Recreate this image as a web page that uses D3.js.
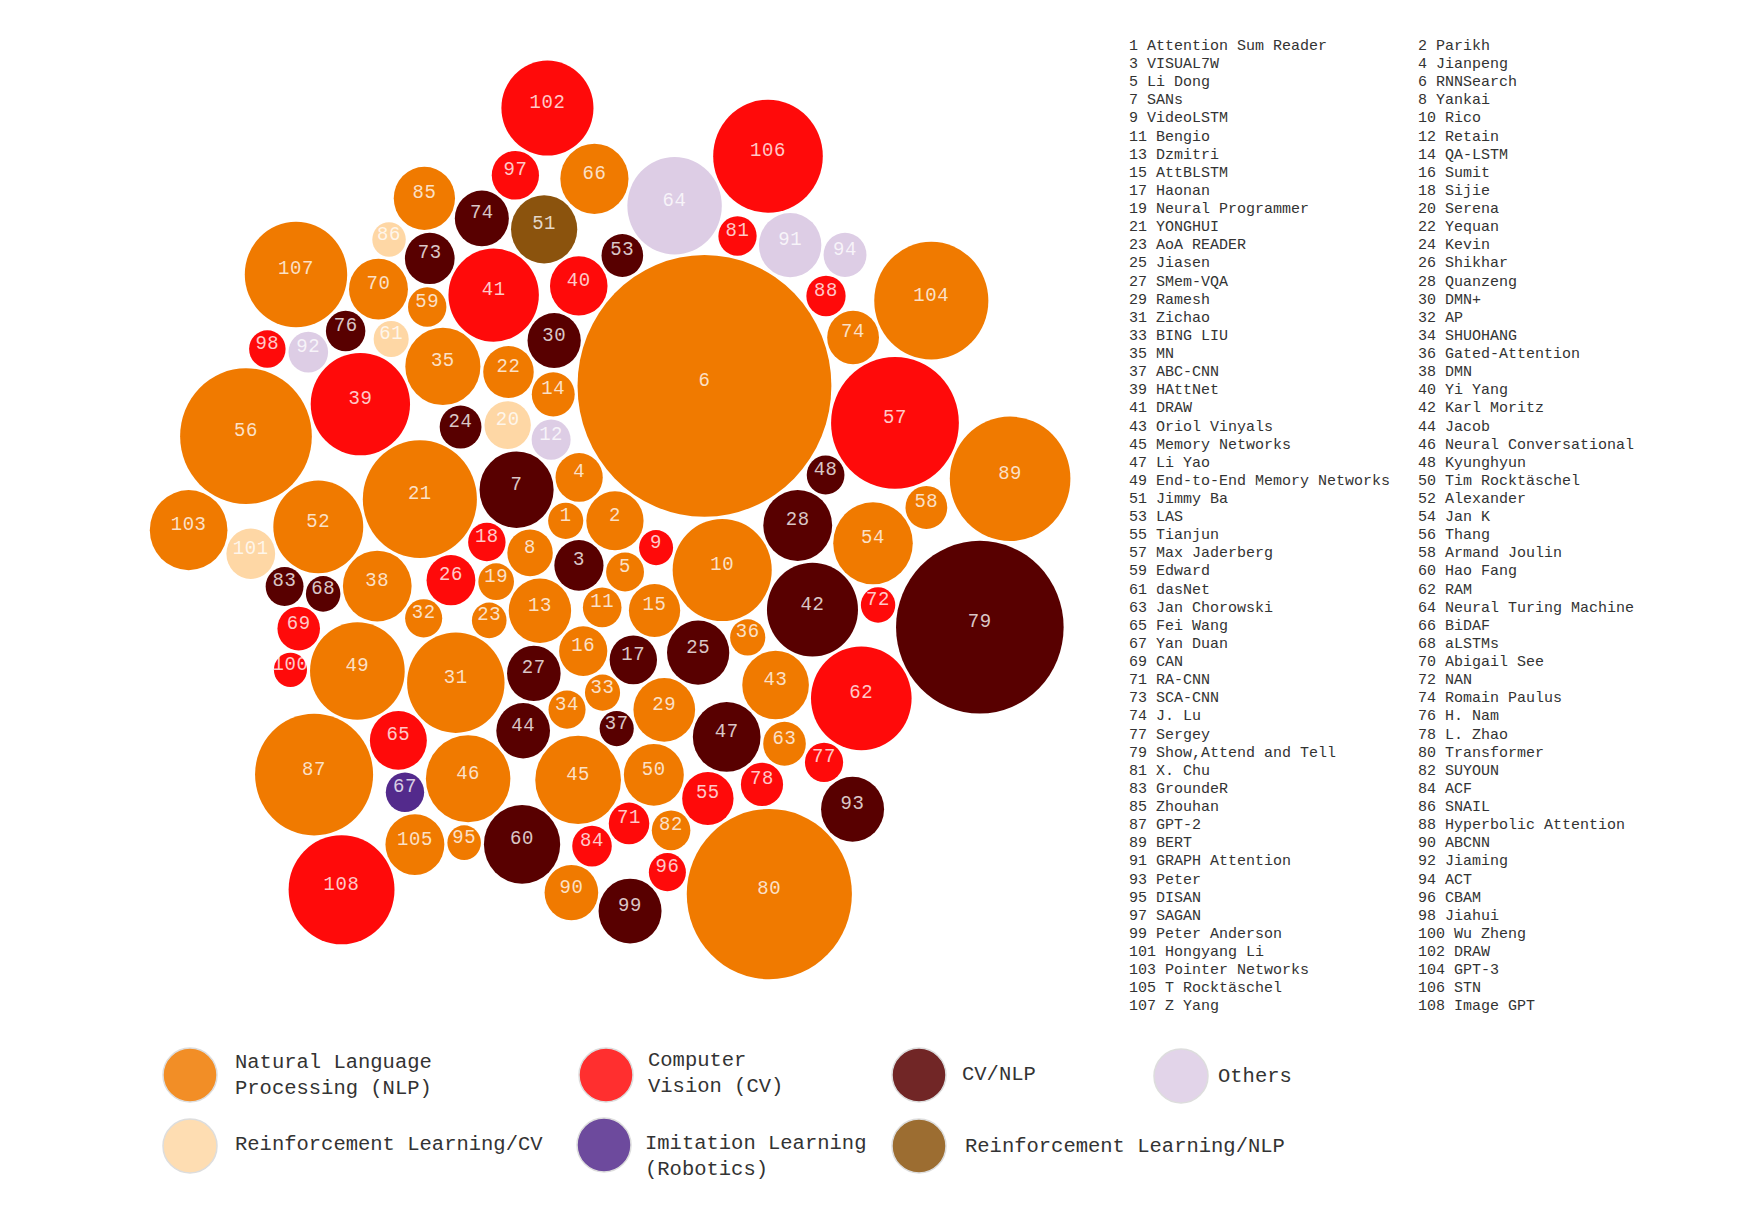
<!DOCTYPE html>
<html>
<head>
<meta charset="utf-8">
<script src="https://cdn.jsdelivr.net/npm/d3@7"></script>
<style>
body { margin: 0; background: #fff; }
</style>
</head>
<body>
<script>
/* attention papers as bubbles: d3.pack in data order, number list and legend on the side */

let width = 1749;
let height = 1207;

// number printed in each bubble (the 75th is printed as 74 in the source)
const labels = d3.range(1, 109).map(i => i === 75 ? "74" : String(i));

const names = ["Attention Sum Reader","Parikh","VISUAL7W","Jianpeng","Li Dong","RNNSearch","SANs","Yankai","VideoLSTM","Rico",
"Bengio","Retain","Dzmitri","QA-LSTM","AttBLSTM","Sumit","Haonan","Sijie","Neural Programmer","Serena",
"YONGHUI","Yequan","AoA READER","Kevin","Jiasen","Shikhar","SMem-VQA","Quanzeng","Ramesh","DMN+",
"Zichao","AP","BING LIU","SHUOHANG","MN","Gated-Attention","ABC-CNN","DMN","HAttNet","Yi Yang",
"DRAW","Karl Moritz","Oriol Vinyals","Jacob","Memory Networks","Neural Conversational","Li Yao","Kyunghyun","End-to-End Memory Networks","Tim Rocktäschel",
"Jimmy Ba","Alexander","LAS","Jan K","Tianjun","Thang","Max Jaderberg","Armand Joulin","Edward","Hao Fang",
"dasNet","RAM","Jan Chorowski","Neural Turing Machine","Fei Wang","BiDAF","Yan Duan","aLSTMs","CAN","Abigail See",
"RA-CNN","NAN","SCA-CNN","Romain Paulus","J. Lu","H. Nam","Sergey","L. Zhao","Show,Attend and Tell","Transformer",
"X. Chu","SUYOUN","GroundeR","ACF","Zhouhan","SNAIL","GPT-2","Hyperbolic Attention","BERT","ABCNN",
"GRAPH Attention","Jiaming","Peter","ACT","DISAN","CBAM","SAGAN","Jiahui","Peter Anderson","Wu Zheng",
"Hongyang Li","DRAW","Pointer Networks","GPT-3","T Rocktäschel","STN","Z Yang","Image GPT"];

const groups = ["NLP","NLP","CVNLP","NLP","NLP","NLP","CVNLP","NLP","CV","NLP",
"NLP","OTH","NLP","NLP","NLP","NLP","CVNLP","CV","NLP","RLCV",
"NLP","NLP","NLP","CVNLP","CVNLP","CV","CVNLP","CVNLP","NLP","CVNLP",
"NLP","NLP","NLP","NLP","NLP","NLP","CVNLP","NLP","CV","CV",
"CV","CVNLP","NLP","CVNLP","NLP","NLP","CVNLP","CVNLP","NLP","NLP",
"RLNLP","NLP","CVNLP","NLP","CV","NLP","CV","NLP","NLP","CVNLP",
"RLCV","CV","NLP","OTH","CV","NLP","IL","CVNLP","CV","NLP",
"CV","CV","CVNLP","NLP","CVNLP","CVNLP","CV","CV","CVNLP","NLP",
"CV","NLP","CVNLP","CV","NLP","RLCV","NLP","CV","NLP","NLP",
"OTH","OTH","CVNLP","OTH","NLP","CV","CV","CV","CVNLP","CV",
"RLCV","CV","NLP","NLP","NLP","CV","NLP","CV"];

// bubble sizes (area)
const values = [325,862,635,586,377,16939,1444,543,304,2581,
392,399,1024,484,691,610,590,369,334,566,
3422,671,315,458,1018,625,754,1247,1000,745,
2496,361,324,361,1482,325,306,1241,2593,870,
2149,2179,1167,758,1931,1877,1205,374,2356,945,
1153,2126,456,1664,693,4559,4294,458,387,1528,
323,2662,477,2345,853,1221,387,313,476,913,
431,311,650,705,767,409,384,467,7381,7168,
385,391,377,411,987,295,3664,405,3823,756,
1024,412,1043,484,296,361,586,350,1043,289,
625,2228,1584,3422,912,3158,2756,2948];

const groupKeys = ["NLP","CV","CVNLP","OTH","RLCV","IL","RLNLP"];
const groupColors = ["#f07a00","#ff0a0a","#580000","#ddcde5","#fed7a5","#532a8c","#8b530d"];
const legendText = [["Natural Language","Processing (NLP)"],["Computer","Vision (CV)"],["CV/NLP"],["Others"],
  ["Reinforcement Learning/CV"],["Imitation Learning","(Robotics)"],["Reinforcement Learning/NLP"]];

let color = d3.scaleOrdinal().domain(groupKeys).range(groupColors);

let data = labels.map((l, i) => ({label: l, name: names[i], group: groups[i], value: values[i]}));

var svg = d3.select("body")
.append("svg")
.attr("width", width)
.attr("height", height);

// ---- bubbles
let packScale = 0.9557;
let stretchY = 1.031;   // the source picture is a little taller than wide

let root = d3.hierarchy({children: data}).sum(d => d.value);
d3.pack().size([1000, 1000]).padding(3.14)(root);

let bubbles = svg.append("g")
.attr("transform", "translate(123,54) scale(" + packScale + "," + (packScale * stretchY) + ")");

let node = bubbles.selectAll("g")
.data(root.leaves())
.enter()
.append("g")
.attr("transform", d => "translate(" + d.x + "," + d.y + ")");

node.append("circle")
.attr("r", d => d.r)
.attr("fill", d => color(d.data.group));

node.append("text")
.attr("text-anchor", "middle")
.attr("font-family", "'Liberation Mono', 'DejaVu Sans Mono', monospace")
.attr("font-size", 19 / packScale)
.attr("letter-spacing", 0.6)
.attr("fill", "#fff")
.attr("fill-opacity", 0.78)
.text(d => d.data.label);

// ---- number list, two columns
let list = svg.append("g")
.attr("font-family", "'Courier New', 'Liberation Mono', monospace")
.attr("font-size", 15)
.attr("fill", "#333");

list.selectAll("text")
.data(data)
.enter()
.append("text")
.attr("x", (d, i) => i % 2 === 0 ? 1129 : 1418)
.attr("y", (d, i) => 50 + Math.floor(i / 2) * 18.12)
.text(d => d.label + " " + d.name);

// ---- legend
let legendPos = [[190,1075],[606,1075],[919,1075],[1181,1076],[190,1146],[604,1145],[919,1146]];
let legendDx = [45, 42, 43, 37, 45, 41, 46];
let legendDy = [-7, -9, 5, 6, 4, 4, 6];

let leg = svg.append("g")
.attr("font-family", "'Courier New', 'Liberation Mono', monospace")
.attr("font-size", 20.5)
.attr("fill", "#333");

let item = leg.selectAll("g")
.data(groupKeys)
.enter()
.append("g")
.attr("transform", (d, i) => "translate(" + legendPos[i][0] + "," + legendPos[i][1] + ")");

item.append("circle")
.attr("r", 27)
.attr("fill", d => color(d))
.attr("fill-opacity", 0.85)
.attr("stroke", "#ddd")
.attr("stroke-width", 1.5);

item.append("text")
.attr("y", (d, i) => legendDy[i])
.each(function(d, i) {
	d3.select(this).selectAll("tspan")
	.data(legendText[i])
	.enter()
	.append("tspan")
	.attr("x", legendDx[i])
	.attr("dy", (t, j) => j === 0 ? 0 : 26)
	.text(t => t);
});
</script>
</body>
</html>
